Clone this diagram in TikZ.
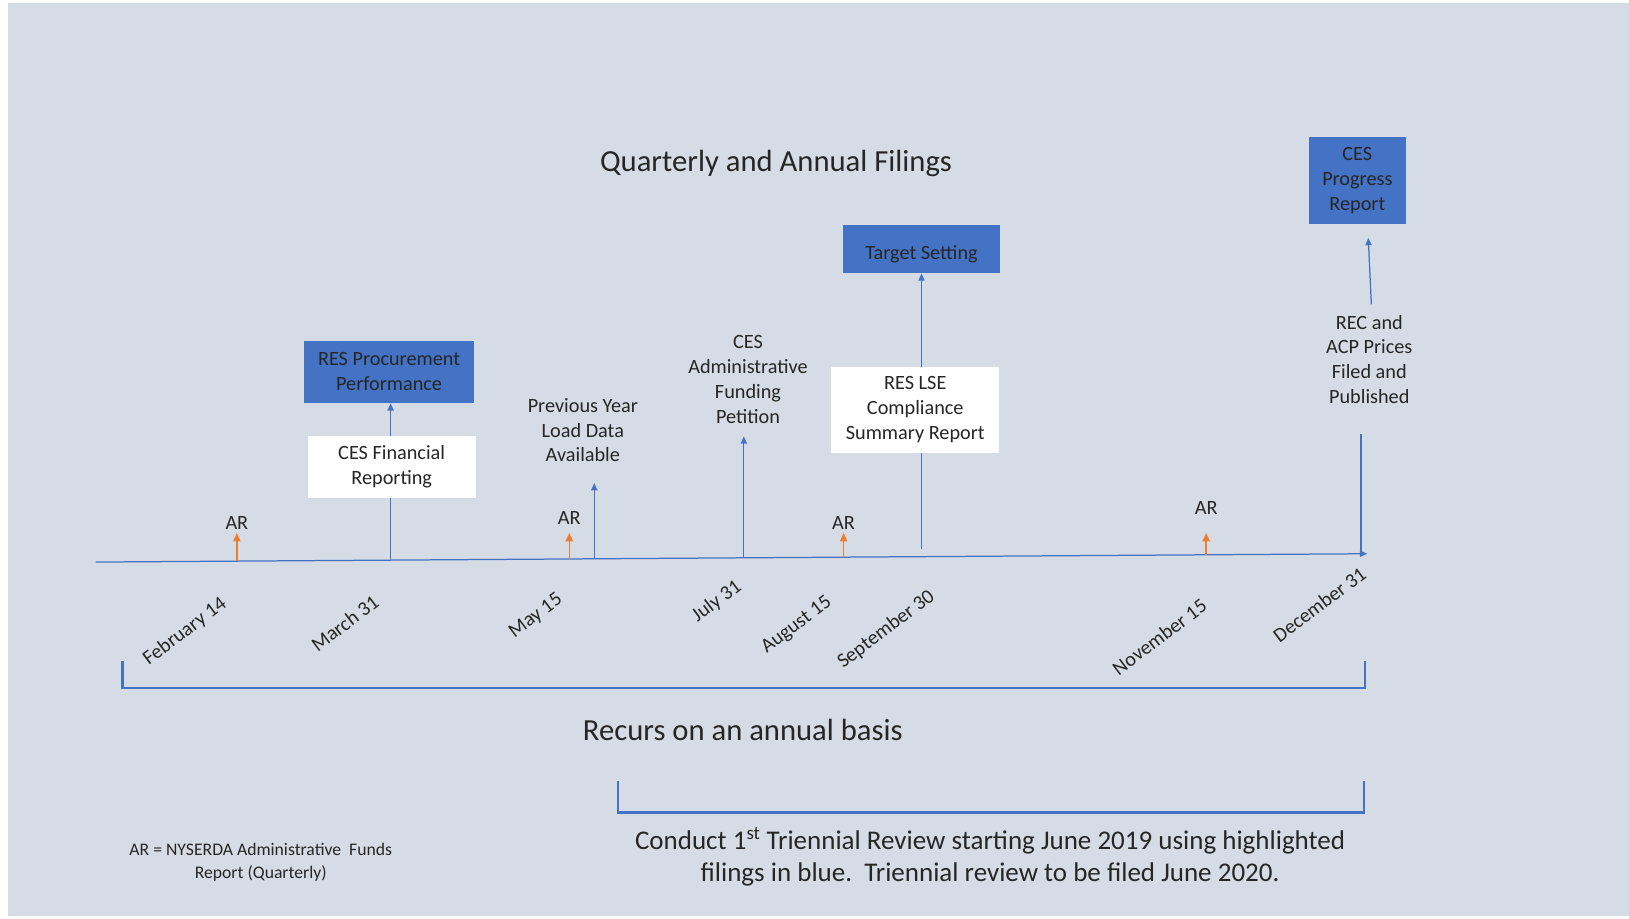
\documentclass[tikz,border=0pt]{standalone}
\usepackage{fontspec}
\setmainfont{Carlito}
\usetikzlibrary{arrows.meta,positioning,calc}
\definecolor{bgblue}{HTML}{D6DCE5}
\definecolor{lineblue}{HTML}{4472C4}
\definecolor{arorange}{HTML}{ED7D31}
\definecolor{inkgray}{HTML}{262626}

\begin{document}
\begin{tikzpicture}[
  x=1pt,y=-1pt,
  txt/.style={font=\fontsize{19.5}{24}\selectfont,text=inkgray,align=center,inner sep=0pt},
  bluebox/.style={txt,fill=lineblue},
  whitebox/.style={txt,fill=white},
  datelbl/.style={txt,rotate=37},
  big/.style={font=\fontsize{29.5}{34}\selectfont,text=inkgray,align=center,inner sep=0pt},
  mid/.style={font=\fontsize{26}{31}\selectfont,text=inkgray,align=center,inner sep=0pt},
  note/.style={font=\fontsize{17}{22}\selectfont,text=inkgray,align=center,inner sep=0pt},
  arline/.style={lineblue,line width=1.2pt},
  arr/.style={-{Triangle[length=7pt,width=6pt]},lineblue,line width=1.2pt},
  ar/.style={-{Triangle[length=8pt,width=7pt]},arorange,line width=1.4pt},
  brk/.style={lineblue,line width=2.2pt}
]
\fill[white] (0,0) rectangle (1568,884);
\fill[bgblue] (8,3) rectangle (1568,882);
\useasboundingbox (0,0) rectangle (1568,884);

\node[big] (title) at (747,157) {Quarterly and Annual Filings};

% time axis
\coordinate (axL) at (92,541);
\coordinate (axR) at (1316,533);
\draw[arr] (axL) -- (axR);

% administrative funds reports
\foreach \nm/\x/\y/\ly in {feb/228/540/503,may/548/538/499,aug/812/536/503,nov/1161/534/489}{
  \coordinate (\nm) at (\x,\y);
  \coordinate (\nm tip) at (\x,513);
  \node[txt] (\nm ar) at (\x,\ly) {AR};
  \draw[ar] (\nm) -- (\nm tip);
}

% dates
\node[datelbl] (febd) at (178,608) {February 14};
\node[datelbl] (mard) at (332,600) {March 31};
\node[datelbl] (mayd) at (516,593) {May 15};
\node[datelbl] (juld) at (690,579) {July 31};
\node[datelbl] (augd) at (767,602) {August 15};
\node[datelbl] (sepd) at (853,606) {September 30};
\node[datelbl] (novd) at (1116,613) {November 15};
\node[datelbl] (decd) at (1270,582) {December 31};

% filings
\node[whitebox,minimum width=162pt,minimum height=59pt] (cesfin) at (377,449.5) {CES Financial\\Reporting};
\node[bluebox,minimum width=163pt,minimum height=60pt] (resproc) at (374.5,358) {RES Procurement\\Performance};
\node[txt] (prevyr) at (561,414) {Previous Year\\Load Data\\Available};
\node[txt] (cesadmin) at (720,365) {CES\\Administrative\\Funding\\Petition};
\node[whitebox,minimum width=162pt,minimum height=83pt] (reslse) at (881,394.5) {RES LSE\\Compliance\\Summary Report};
\node[bluebox,minimum width=152pt,minimum height=46pt] (target) at (887,240) {};
\node[txt] (targettxt) at (887,245) {Target Setting};
\node[txt] (recacp) at (1318,346) {REC and\\ACP Prices\\Filed and\\Published};
\node[bluebox,minimum width=93pt,minimum height=84pt] (cesprog) at (1306.5,174) {CES\\Progress\\Report};

\coordinate (mar) at (376,539);
\coordinate (prev) at (572,538);
\coordinate (prevtip) at (572,465);
\coordinate (jul) at (716,537);
\coordinate (jultip) at (716,420);
\coordinate (sep) at (887,528);
\coordinate (dec) at (1310,533);
\coordinate (dectop) at (1310,418);
\coordinate (recfoot) at (1320,293);
\coordinate (rectip) at (1317,229);

\draw[arline] (mar) -- (mar |- cesfin.south);
\draw[arr] (mar |- cesfin.north) -- (mar |- resproc.south);
\draw[arr] (prev) -- (prevtip);
\draw[arr] (jul) -- (jultip);
\draw[arline] (sep) -- (sep |- reslse.south);
\draw[arr] (sep |- reslse.north) -- (sep |- target.south);
\draw[arline] (dec) -- (dectop);
\draw[arr] (recfoot) -- (rectip);

% brackets
\coordinate (yrL) at (118,636);
\coordinate (yrR) at (1314,636);
\draw[brk] (yrL) -- ++(0,26) -| (yrR);
\node[big] (recurs) at (715,703) {Recurs on an annual basis};
\coordinate (trL) at (595,752);
\coordinate (trR) at (1313,752);
\draw[brk] (trL) -- ++(0,30) -| (trR);
\node[mid] (conduct) at (953,825) {Conduct 1\textsuperscript{st} Triennial Review starting June 2019 using highlighted\\filings in blue.\ \ Triennial review to be filed June 2020.};

\node[note] (arnote) at (251,830) {AR = NYSERDA Administrative\ \ Funds\\Report (Quarterly)};
\end{tikzpicture}
\end{document}
